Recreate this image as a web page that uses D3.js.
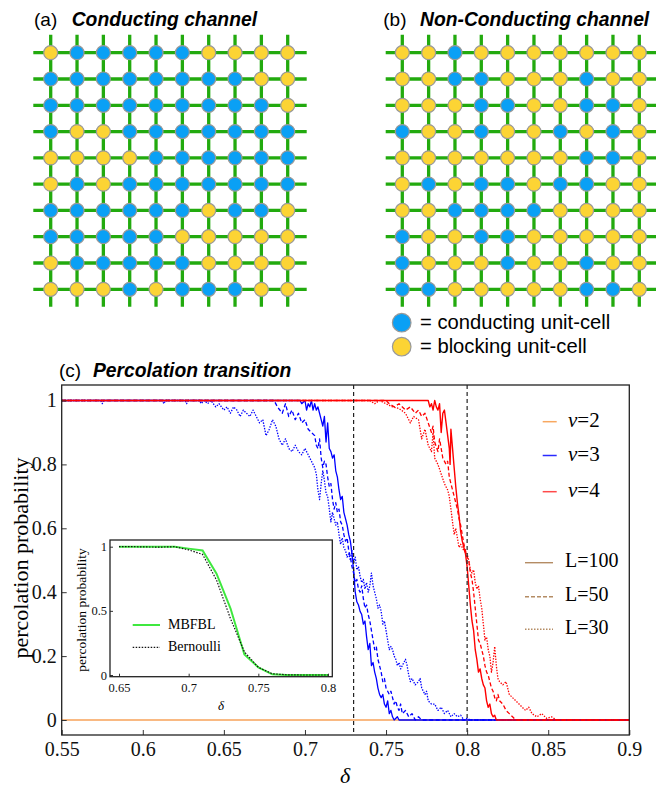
<!DOCTYPE html>
<html><head><meta charset="utf-8">
<script src="https://cdn.jsdelivr.net/npm/d3@7"></script>
<style>body{margin:0;background:#fff}svg{display:block}</style>
</head><body><svg id="c" width="656" height="787"></svg>
<script>
// ---------- DATA ----------
const gridA = ["YBBBBBYYYY","BBBBBBBBYY","BBBBBBBBBY","BYYBBBBBBB","YYYYBBBBBB","YBYBBBBBBB","BBBBBBYBBY","BBBBBYYYYY","YBBBBBYYYY","YYYBYBBBYY"];
const gridB = ["YYBYYYYYYY","YYBBYYYBYY","YYYBBYYBBY","BYYBYYBYBY","YYYYYYYBBY","YBYBBYBBYY","YYBBBBYYYY","BYYBBYYYYY","BYYYBYYBYY","BBYYYYYBBY"];
const cellLegend = [{key:"B", label:"= conducting unit-cell"},{key:"Y", label:"= blocking unit-cell"}];

const xTicks = [0.55,0.6,0.65,0.7,0.75,0.8,0.85,0.9];
const xTickLabels = ["0.55","0.6","0.65","0.7","0.75","0.8","0.85","0.9"];
const yTicks = [0,0.2,0.4,0.6,0.8,1];
const yTickLabels = ["0","0.2","0.4","0.6","0.8","1"];
const criticalDeltas = [0.73, 0.8];

const v2_all = [[0.55,0],[0.9,0]];
const v3_L100 = [[0.55,1],[0.697,1],[0.698,0.99],[0.700,1],[0.701,0.97],[0.702,0.99],[0.703,0.98],[0.704,1],[0.705,0.97],[0.706,0.99],[0.707,0.97],[0.708,0.98],[0.709,0.96],[0.710,0.94],[0.711,0.92],[0.712,0.95],[0.713,0.87],[0.714,0.93],[0.715,0.85],[0.716,0.84],[0.717,0.82],[0.718,0.83],[0.719,0.78],[0.720,0.76],[0.721,0.72],[0.722,0.69],[0.723,0.70],[0.724,0.65],[0.725,0.63],[0.726,0.61],[0.727,0.58],[0.728,0.56],[0.729,0.52],[0.730,0.47],[0.731,0.40],[0.732,0.37],[0.733,0.36],[0.734,0.34],[0.735,0.33],[0.736,0.30],[0.737,0.31],[0.738,0.26],[0.739,0.22],[0.740,0.24],[0.741,0.17],[0.742,0.18],[0.743,0.15],[0.744,0.13],[0.745,0.10],[0.746,0.08],[0.747,0.07],[0.748,0.08],[0.749,0.05],[0.750,0.04],[0.751,0.06],[0.752,0.02],[0.753,0.03],[0.754,0.01],[0.755,0],[0.757,0.01],[0.758,0],[0.9,0]];
const v3_L50 = [[0.55,1],[0.681,1],[0.683,0.98],[0.686,0.96],[0.688,0.99],[0.690,0.95],[0.692,0.97],[0.694,0.94],[0.696,0.96],[0.698,0.93],[0.700,0.94],[0.702,0.91],[0.704,0.90],[0.706,0.89],[0.707,0.86],[0.708,0.85],[0.709,0.88],[0.710,0.82],[0.711,0.79],[0.712,0.81],[0.713,0.80],[0.714,0.76],[0.715,0.73],[0.716,0.74],[0.717,0.69],[0.718,0.66],[0.719,0.68],[0.720,0.65],[0.721,0.66],[0.722,0.62],[0.723,0.61],[0.724,0.58],[0.725,0.56],[0.726,0.57],[0.727,0.53],[0.728,0.51],[0.729,0.48],[0.730,0.46],[0.731,0.43],[0.732,0.44],[0.733,0.41],[0.734,0.40],[0.735,0.42],[0.736,0.38],[0.737,0.35],[0.738,0.36],[0.739,0.33],[0.740,0.31],[0.741,0.28],[0.742,0.25],[0.743,0.22],[0.744,0.23],[0.745,0.19],[0.746,0.17],[0.747,0.15],[0.748,0.12],[0.749,0.13],[0.750,0.10],[0.751,0.09],[0.752,0.08],[0.753,0.09],[0.754,0.07],[0.755,0.05],[0.756,0.06],[0.757,0.04],[0.758,0.03],[0.759,0.05],[0.760,0.02],[0.762,0.03],[0.764,0.01],[0.766,0.02],[0.768,0],[0.770,0.01],[0.772,0],[0.9,0]];
const v3_L30 = [[0.55,1],[0.574,1],[0.575,0.99],[0.576,1],[0.612,1],[0.613,0.99],[0.614,1],[0.626,1],[0.627,0.99],[0.628,1],[0.635,1],[0.636,0.99],[0.638,1],[0.640,0.99],[0.642,1],[0.645,0.98],[0.647,0.99],[0.650,0.97],[0.652,0.98],[0.654,0.96],[0.656,0.98],[0.658,0.97],[0.660,0.95],[0.662,0.97],[0.664,0.96],[0.666,0.95],[0.668,0.97],[0.670,0.95],[0.672,0.93],[0.674,0.94],[0.676,0.89],[0.678,0.91],[0.680,0.94],[0.682,0.92],[0.684,0.88],[0.686,0.86],[0.688,0.88],[0.690,0.85],[0.692,0.84],[0.694,0.86],[0.696,0.84],[0.698,0.83],[0.700,0.85],[0.702,0.83],[0.704,0.81],[0.706,0.79],[0.707,0.77],[0.708,0.72],[0.709,0.69],[0.710,0.74],[0.711,0.78],[0.712,0.75],[0.713,0.71],[0.714,0.70],[0.715,0.66],[0.716,0.62],[0.717,0.65],[0.718,0.63],[0.719,0.61],[0.720,0.62],[0.721,0.58],[0.722,0.55],[0.723,0.57],[0.724,0.54],[0.725,0.53],[0.726,0.51],[0.727,0.52],[0.728,0.50],[0.729,0.53],[0.730,0.49],[0.731,0.51],[0.732,0.47],[0.733,0.48],[0.734,0.45],[0.735,0.43],[0.736,0.44],[0.737,0.41],[0.738,0.43],[0.739,0.40],[0.740,0.42],[0.741,0.46],[0.742,0.42],[0.743,0.40],[0.744,0.38],[0.745,0.35],[0.746,0.36],[0.747,0.34],[0.748,0.30],[0.749,0.31],[0.750,0.28],[0.751,0.25],[0.752,0.22],[0.753,0.23],[0.754,0.22],[0.755,0.20],[0.756,0.19],[0.757,0.17],[0.758,0.18],[0.759,0.16],[0.760,0.17],[0.762,0.19],[0.763,0.17],[0.764,0.14],[0.765,0.12],[0.766,0.13],[0.768,0.11],[0.770,0.12],[0.771,0.13],[0.772,0.10],[0.774,0.08],[0.775,0.09],[0.776,0.06],[0.778,0.05],[0.780,0.05],[0.782,0.03],[0.784,0.04],[0.786,0.02],[0.788,0.03],[0.790,0.01],[0.792,0.02],[0.794,0.01],[0.796,0.015],[0.798,0],[0.800,0.005],[0.802,0],[0.9,0]];
const v4_L100 = [[0.55,1],[0.776,1],[0.777,0.98],[0.778,0.99],[0.779,0.97],[0.780,1],[0.781,0.98],[0.782,0.97],[0.783,0.99],[0.784,0.90],[0.785,0.96],[0.786,0.97],[0.787,0.93],[0.788,0.89],[0.789,0.85],[0.7895,0.80],[0.790,0.91],[0.791,0.85],[0.792,0.79],[0.793,0.73],[0.794,0.68],[0.795,0.64],[0.796,0.59],[0.797,0.56],[0.798,0.54],[0.799,0.52],[0.800,0.48],[0.801,0.42],[0.802,0.36],[0.803,0.31],[0.804,0.28],[0.805,0.22],[0.806,0.19],[0.807,0.15],[0.808,0.16],[0.809,0.13],[0.810,0.11],[0.811,0.10],[0.812,0.06],[0.813,0.04],[0.814,0.05],[0.815,0.02],[0.816,0.01],[0.817,0.015],[0.818,0],[0.9,0]];
const v4_L50 = [[0.55,1],[0.750,1],[0.752,0.99],[0.755,0.98],[0.758,0.99],[0.762,0.97],[0.765,0.98],[0.768,0.96],[0.770,0.97],[0.772,0.95],[0.774,0.96],[0.776,0.93],[0.778,0.90],[0.779,0.92],[0.780,0.87],[0.782,0.84],[0.783,0.88],[0.785,0.82],[0.787,0.80],[0.788,0.81],[0.789,0.76],[0.790,0.74],[0.791,0.72],[0.792,0.70],[0.793,0.68],[0.794,0.66],[0.795,0.63],[0.796,0.61],[0.797,0.58],[0.798,0.55],[0.799,0.53],[0.800,0.51],[0.801,0.50],[0.802,0.46],[0.803,0.44],[0.804,0.40],[0.805,0.35],[0.806,0.30],[0.807,0.25],[0.808,0.24],[0.809,0.22],[0.810,0.20],[0.811,0.17],[0.812,0.15],[0.813,0.14],[0.814,0.12],[0.815,0.10],[0.816,0.09],[0.817,0.07],[0.818,0.06],[0.819,0.08],[0.820,0.06],[0.822,0.05],[0.824,0.03],[0.826,0.02],[0.828,0.01],[0.830,0],[0.9,0]];
const v4_L30 = [[0.55,1],[0.740,1],[0.743,0.99],[0.746,1],[0.750,0.99],[0.754,0.98],[0.758,0.975],[0.762,0.96],[0.765,0.93],[0.767,0.95],[0.770,0.94],[0.772,0.88],[0.774,0.91],[0.776,0.86],[0.778,0.84],[0.779,0.90],[0.780,0.82],[0.782,0.80],[0.784,0.77],[0.786,0.74],[0.788,0.72],[0.789,0.70],[0.790,0.66],[0.791,0.62],[0.792,0.58],[0.793,0.60],[0.794,0.57],[0.795,0.54],[0.796,0.55],[0.798,0.53],[0.800,0.52],[0.801,0.50],[0.802,0.47],[0.803,0.46],[0.804,0.47],[0.805,0.43],[0.806,0.41],[0.807,0.42],[0.808,0.38],[0.809,0.35],[0.810,0.30],[0.811,0.25],[0.812,0.26],[0.813,0.22],[0.814,0.20],[0.815,0.15],[0.816,0.18],[0.817,0.23],[0.818,0.17],[0.819,0.13],[0.820,0.12],[0.822,0.11],[0.824,0.12],[0.826,0.08],[0.828,0.07],[0.830,0.06],[0.832,0.05],[0.834,0.04],[0.836,0.03],[0.838,0.04],[0.840,0.02],[0.843,0.01],[0.846,0.02],[0.849,0.005],[0.852,0.01],[0.855,0],[0.9,0]];

const nuLegend = ["2","3","4"];
const lLegend = ["L=100","L=50","L=30"];

const insetXTicks = [0.65,0.7,0.75,0.8];
const insetXTickLabels = ["0.65","0.7","0.75","0.8"];
const insetYTicks = [0,0.5,1];
const insetYTickLabels = ["0","0.5","1"];
const insetDelta = [0.65,0.66,0.67,0.68,0.69,0.70,0.71,0.72,0.73,0.74,0.75,0.76,0.77,0.78,0.79,0.80];
const mbfbl = [1,1,1,1,1,0.985,0.97,0.79,0.52,0.16,0.06,0.005,0,0,0,0];
const bernoulli = [1,1,0.998,0.997,1,0.975,0.94,0.74,0.44,0.18,0.06,0.01,0.002,0,0,0];
const insetLegend = ["MBFBL","Bernoulli"];

// ---------- DRAW ----------
const svg = d3.select("#c");
const sans = "'Liberation Sans', Arial, Helvetica, sans-serif";
const serif = "'Liberation Serif', 'Times New Roman', serif";
const BLUE_CELL = "#0aa0f5", YELLOW_CELL = "#fcd434", GREEN = "#22aa0e";
const cellColor = k => k === "B" ? BLUE_CELL : YELLOW_CELL;

function title(x1, x2, y, a, b) {
  svg.append("text").attr("x", x1).attr("y", y).attr("font-family", sans).attr("font-size", 19).text(a);
  svg.append("text").attr("x", x2).attr("y", y).attr("font-family", sans).attr("font-size", 19.3)
    .attr("font-weight", "bold").attr("font-style", "italic").text(b);
}
title(34, 71.7, 26, "(a)", "Conducting channel");
title(383.3, 420, 26, "(b)", "Non-Conducting channel");
title(59, 93, 376.7, "(c)", "Percolation transition");

function drawGrid(rows, cx0, cx1, lx0, lx1) {
  const g = svg.append("g");
  const xs = d3.scalePoint().domain(d3.range(10)).range([cx0, cx1]);
  const ys = d3.scalePoint().domain(d3.range(10)).range([52.7, 289.3]);
  g.selectAll("line.h").data(d3.range(10)).join("line").attr("class", "h")
    .attr("x1", lx0).attr("x2", lx1).attr("y1", d => ys(d)).attr("y2", d => ys(d))
    .attr("stroke", GREEN).attr("stroke-width", 3.3);
  g.selectAll("line.v").data(d3.range(10)).join("line").attr("class", "v")
    .attr("x1", d => xs(d)).attr("x2", d => xs(d)).attr("y1", 34.7).attr("y2", 306.7)
    .attr("stroke", GREEN).attr("stroke-width", 3.3);
  const cells = [];
  rows.forEach((r, i) => r.split("").forEach((k, j) => cells.push({i, j, k})));
  g.selectAll("circle").data(cells).join("circle")
    .attr("cx", d => xs(d.j)).attr("cy", d => ys(d.i)).attr("r", 7)
    .attr("fill", d => cellColor(d.k)).attr("stroke", "#999").attr("stroke-width", 1.2);
}
drawGrid(gridA, 50.7, 287.7, 33.3, 306.7);
drawGrid(gridB, 402.3, 639.3, 385.7, 660);

const lg = svg.append("g");
cellLegend.forEach((d, i) => {
  lg.append("circle").attr("cx", 401.7).attr("cy", 322.7 + i * 24).attr("r", 9.3)
    .attr("fill", cellColor(d.key)).attr("stroke", "#999").attr("stroke-width", 1.2);
  lg.append("text").attr("x", 420).attr("y", 328.8 + i * 24).attr("font-family", sans)
    .attr("font-size", 20.2).text(d.label);
});

// main plot
const L = 61.7, R = 629.3, T = 385, B = 735;
const x = d3.scaleLinear().domain([0.55, 0.9]).range([L, R]);
const y = d3.scaleLinear().domain([0, 1]).range([720, 400.5]);

svg.append("defs").append("clipPath").attr("id", "clipMain")
  .append("rect").attr("x", L).attr("y", T).attr("width", R - L).attr("height", B - T);

const plot = svg.append("g").attr("clip-path", "url(#clipMain)");
const line = d3.line().x(d => x(d[0])).y(d => y(d[1]));

const ORANGE = "#f7a258", BLUE = "#0000ff", RED = "#ff0000";
const DASH = "4,2.5", DOT = "1.4,1.4";
const series = [
  {d: v2_all, c: ORANGE, dash: null, w: 1.6},
  {d: v3_L30, c: BLUE, dash: DOT, w: 1.3},
  {d: v3_L50, c: BLUE, dash: DASH, w: 1.3},
  {d: v3_L100, c: BLUE, dash: null, w: 1.3},
  {d: v4_L30, c: RED, dash: DOT, w: 1.3},
  {d: v4_L50, c: RED, dash: DASH, w: 1.3},
  {d: v4_L100, c: RED, dash: null, w: 1.4}
];
plot.selectAll("path.s").data(series).join("path").attr("class", "s")
  .attr("d", s => line(s.d)).attr("fill", "none").attr("stroke", s => s.c)
  .attr("stroke-width", s => s.w).attr("stroke-dasharray", s => s.dash)
  .attr("stroke-linejoin", "round");

plot.selectAll("line.crit").data(criticalDeltas).join("line").attr("class", "crit")
  .attr("x1", d => x(d)).attr("x2", d => x(d)).attr("y1", T).attr("y2", B)
  .attr("stroke", "#222").attr("stroke-width", 1.2).attr("stroke-dasharray", "4,3");

// axes
const xAxis = svg.append("g").attr("transform", `translate(0,${B})`)
  .call(d3.axisBottom(x).tickValues(xTicks).tickSize(-5).tickPadding(7)
    .tickFormat((d, i) => xTickLabels[i]));
const yAxis = svg.append("g").attr("transform", `translate(${L},0)`)
  .call(d3.axisLeft(y).tickValues(yTicks).tickSize(-5).tickPadding(5)
    .tickFormat((d, i) => yTickLabels[i]));
[xAxis, yAxis].forEach(a => {
  a.select(".domain").remove();
  a.selectAll("line").attr("stroke", "#333").attr("stroke-width", 1);
  a.selectAll("text").attr("font-family", serif).attr("font-size", 20).attr("fill", "#111");
});

svg.append("rect").attr("x", L).attr("y", T).attr("width", R - L).attr("height", B - T)
  .attr("fill", "none").attr("stroke", "#222").attr("stroke-width", 1.3);

svg.append("text").attr("transform", "translate(28,558) rotate(-90)").attr("text-anchor", "middle")
  .attr("font-family", serif).attr("font-size", 22).text("percolation probability");
svg.append("text").attr("x", 345).attr("y", 783).attr("text-anchor", "middle")
  .attr("font-family", serif).attr("font-style", "italic").attr("font-size", 22).text("δ");

// nu legend
const nuColors = ["#f8a860", "#2a2aff", "#ff4a4a"];
nuLegend.forEach((v, i) => {
  const yy = [421.7, 455.5, 491.7][i];
  svg.append("line").attr("x1", 542.7).attr("x2", 556.7).attr("y1", yy).attr("y2", yy)
    .attr("stroke", nuColors[i]).attr("stroke-width", 1.5);
  const t = svg.append("text").attr("x", 568).attr("y", yy + 5).attr("font-family", serif).attr("font-size", 21);
  t.append("tspan").attr("font-style", "italic").text("ν");
  t.append("tspan").text("=" + v);
});
// L legend
const lDash = [null, "4,2", "1.5,1.5"];
lLegend.forEach((v, i) => {
  const yy = [562.7, 596.7, 629.3][i];
  svg.append("line").attr("x1", 525).attr("x2", 553).attr("y1", yy).attr("y2", yy)
    .attr("stroke", "#b48c64").attr("stroke-width", 1.4).attr("stroke-dasharray", lDash[i]);
  svg.append("text").attr("x", 565).attr("y", yy + 4.5).attr("font-family", serif)
    .attr("font-size", 20).text(v);
});

// inset
const iL = 110, iR = 332.3, iT = 540, iB = 676.7;
const ix = d3.scaleLinear().domain([0.65, 0.8]).range([119, 328]);
const iy = d3.scaleLinear().domain([0, 1]).range([675, 546.7]);
svg.append("rect").attr("x", iL).attr("y", iT).attr("width", iR - iL).attr("height", iB - iT)
  .attr("fill", "#fff");
const ig = svg.append("g");
const iline = d3.line().x((d, i) => ix(insetDelta[i])).y(d => iy(d));
ig.append("path").attr("d", iline(mbfbl)).attr("fill", "none").attr("stroke", "#3fe83f").attr("stroke-width", 2);
ig.append("path").attr("d", iline(bernoulli)).attr("fill", "none").attr("stroke", "#111")
  .attr("stroke-width", 1.2).attr("stroke-dasharray", "1.5,1.5");
const ixA = svg.append("g").attr("transform", `translate(0,${iB})`)
  .call(d3.axisBottom(ix).tickValues(insetXTicks).tickSize(-3).tickPadding(6.5)
    .tickFormat((d, i) => insetXTickLabels[i]));
const iyA = svg.append("g").attr("transform", `translate(${iL},0)`)
  .call(d3.axisLeft(iy).tickValues(insetYTicks).tickSize(-3).tickPadding(3)
    .tickFormat((d, i) => insetYTickLabels[i]));
[ixA, iyA].forEach(a => {
  a.select(".domain").remove();
  a.selectAll("line").attr("stroke", "#333");
  a.selectAll("text").attr("font-family", serif).attr("font-size", 12.5).attr("fill", "#111");
});
svg.append("rect").attr("x", iL).attr("y", iT).attr("width", iR - iL).attr("height", iB - iT)
  .attr("fill", "none").attr("stroke", "#222").attr("stroke-width", 1.3);
svg.append("text").attr("transform", "translate(85.5,610) rotate(-90)").attr("text-anchor", "middle")
  .attr("font-family", serif).attr("font-size", 13.5).text("percolation probability");
svg.append("text").attr("x", 221).attr("y", 710).attr("text-anchor", "middle")
  .attr("font-family", serif).attr("font-style", "italic").attr("font-size", 13).text("δ");
insetLegend.forEach((v, i) => {
  const yy = [625, 647.3][i];
  svg.append("line").attr("x1", 132.7).attr("x2", 160).attr("y1", yy).attr("y2", yy)
    .attr("stroke", i === 0 ? "#3fe83f" : "#111").attr("stroke-width", i === 0 ? 2 : 1.2)
    .attr("stroke-dasharray", i === 0 ? null : "1.5,1.5");
  svg.append("text").attr("x", 168).attr("y", yy + 3.5).attr("font-family", serif)
    .attr("font-size", 14).text(v);
});
</script></body></html>
